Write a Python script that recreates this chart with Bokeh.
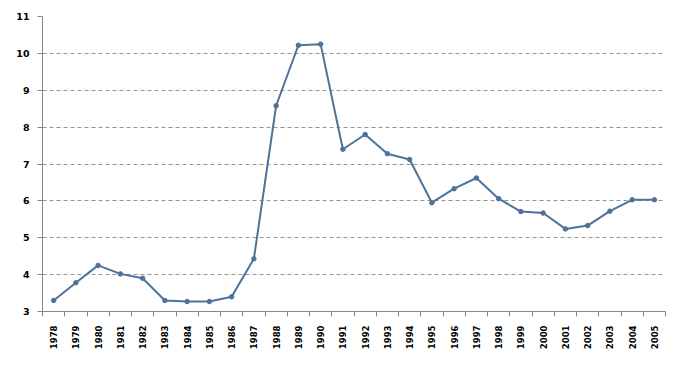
import math
from bokeh.plotting import figure
from bokeh.models import FixedTicker, Range1d
from bokeh.embed import file_html
from bokeh.resources import INLINE

years = list(range(1978, 2006))
values = [3.30, 3.78, 4.25, 4.02, 3.90, 3.30, 3.27, 3.27, 3.40, 4.43,
          8.58, 10.22, 10.25, 7.40, 7.80, 7.28, 7.12, 5.95, 6.33, 6.62,
          6.06, 5.71, 5.67, 5.24, 5.33, 5.72, 6.03, 6.03]
y_ticks = list(range(3, 12))

xs = [i + 0.5 for i in range(len(years))]

p = figure(width=679, height=360, output_backend="svg", toolbar_location=None,
           x_range=Range1d(0, len(years)), y_range=Range1d(3, 11),
           min_border_left=42, min_border_right=14, min_border_top=16, min_border_bottom=49)
p.outline_line_color = None
p.background_fill_color = "white"

p.line(xs, values, line_color="#4D7398", line_width=2)
p.scatter(xs, values, size=4.5, fill_color="#4D7398", line_color="#4D7398")

p.xaxis.ticker = FixedTicker(ticks=xs, minor_ticks=list(range(len(years) + 1)))
p.xaxis.major_label_overrides = {x: str(y) for x, y in zip(xs, years)}
p.xaxis.major_label_orientation = math.pi / 2
p.xaxis.major_tick_line_color = None
p.xaxis.minor_tick_line_color = "#868686"
p.xaxis.minor_tick_in = 0
p.xaxis.minor_tick_out = 5
p.xaxis.axis_line_color = "#868686"
p.xaxis.major_label_text_font = "DejaVu Sans"
p.xaxis.major_label_text_font_style = "bold"
p.xaxis.major_label_text_font_size = "8.5px"
p.xaxis.major_label_text_color = "black"
p.xaxis.major_label_standoff = 8

p.yaxis.ticker = FixedTicker(ticks=y_ticks)
p.yaxis.minor_tick_line_color = None
p.yaxis.major_tick_in = 0
p.yaxis.major_tick_out = 5
p.yaxis.major_tick_line_color = "#868686"
p.yaxis.axis_line_color = "#868686"
p.yaxis.major_label_text_font = "DejaVu Sans"
p.yaxis.major_label_text_font_style = "bold"
p.yaxis.major_label_text_font_size = "9.5px"
p.yaxis.major_label_text_color = "black"
p.yaxis.major_label_standoff = 8

p.xgrid.grid_line_color = None
p.ygrid.grid_line_color = "#949494"
p.ygrid.grid_line_dash = "4 3"
p.ygrid.grid_line_width = 1

open("out.html", "w").write(file_html(p, INLINE))
